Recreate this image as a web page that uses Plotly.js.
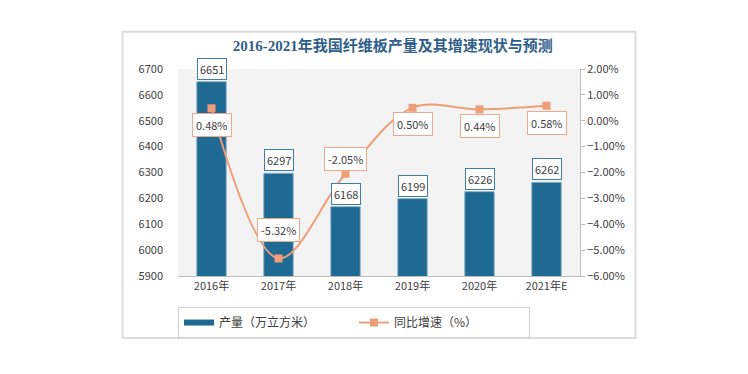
<!DOCTYPE html>
<html><head><meta charset="utf-8">
<script src="https://cdn.plot.ly/plotly-3.0.1.min.js"></script>
<style>body{margin:0;background:#fff}#c{width:748px;height:374px}</style>
</head><body><div id="c"></div>
<script>
var categories = ['2016年','2017年','2018年','2019年','2020年','2021年E'];
var output = [6651, 6297, 6168, 6199, 6226, 6262];
var growth = [0.0048, -0.0532, -0.0205, 0.0050, 0.0044, 0.0058];
var growthLabels = ['0.48%','-5.32%','-2.05%','0.50%','0.44%','0.58%'];
var lineLabelShift = [-17, 28, 15, -16, -17, -17];

var font = 'Noto Sans CJK SC, Lato, sans-serif';
var barColor = '#1E6A92';
var lineColor = '#EE9E78';

var traces = [
  {type:'bar', x:categories, y:output, name:'产量（万立方米）', showlegend:false, marker:{color:barColor, line:{color:'#8FB3C8', width:1}}, width:0.44, yaxis:'y'},
  {type:'scatter', mode:'lines', x:[null], y:[null], name:'产量（万立方米）', line:{color:barColor, width:6}, yaxis:'y', hoverinfo:'skip'},
  {type:'scatter', mode:'lines+markers', x:categories, y:growth, name:'同比增速（%）', yaxis:'y2',
   line:{color:lineColor, width:2, shape:'spline', smoothing:1}, marker:{symbol:'square', size:8, color:lineColor}}
];

var annotations = [];
categories.forEach(function(c,i){
  annotations.push({x:c, y:output[i], xref:'x', yref:'y', text:String(output[i]), showarrow:false,
    yshift:13, font:{family:font, size:11, color:'#404040'}, bgcolor:'#fff', bordercolor:'#3D7FA6', borderwidth:1, borderpad:2});
  annotations.push({x:c, y:growth[i], xref:'x', yref:'y2', text:growthLabels[i], showarrow:false,
    yshift:lineLabelShift[i], font:{family:font, size:11, color:'#404040'}, bgcolor:'#fff', bordercolor:'#F0A888', borderwidth:1, borderpad:3});
});

var layout = {
  width:748, height:374,
  margin:{l:178, r:168, t:69, b:98},
  paper_bgcolor:'#fff', plot_bgcolor:'#F3F3F3',
  title:{text:'<b>2016-2021年我国纤维板产量及其增速现状与预测</b>', font:{family:'Liberation Serif, Noto Sans CJK SC, serif', size:15, color:'#2F5F8A'}, x:0.525, xanchor:'center', y:0.877, yanchor:'middle'},
  showlegend:true,
  legend:{orientation:'h', x:0.0, xanchor:'left', y:-0.15, yanchor:'top', bordercolor:'#D0D0D0', borderwidth:1, bgcolor:'#fff',
    font:{family:font, size:12, color:'#404040'}, traceorder:'normal', itemwidth:30, entrywidth:130, tracegroupgap:0},
  xaxis:{tickfont:{family:font, size:11, color:'#404040'}, showline:true, linecolor:'#BFBFBF', linewidth:1, ticks:'', showgrid:false},
  yaxis:{range:[5900,6700], dtick:100, tickfont:{family:font, size:11, color:'#404040'}, showgrid:false, showline:false, zeroline:false, ticks:'', ticklen:0, automargin:false, ticklabelstandoff:14},
  yaxis2:{overlaying:'y', side:'right', range:[-0.06,0.02], dtick:0.01, tickformat:'.2%', tickfont:{family:font, size:11, color:'#404040'},
    showgrid:false, zeroline:false, showline:true, linecolor:'#BFBFBF', ticks:'outside', ticklen:4, tickcolor:'#BFBFBF', automargin:false},
  bargap:0.56,
  annotations:annotations,
  shapes:[{type:'rect', xref:'paper', yref:'paper', x0:-0.138, x1:1.138, y0:-0.30, y1:1.18, line:{color:'#DCDCDC', width:2}, fillcolor:'rgba(0,0,0,0)', layer:'below'}]
};
Plotly.newPlot('c', traces, layout, {displayModeBar:false});
</script></body></html>
